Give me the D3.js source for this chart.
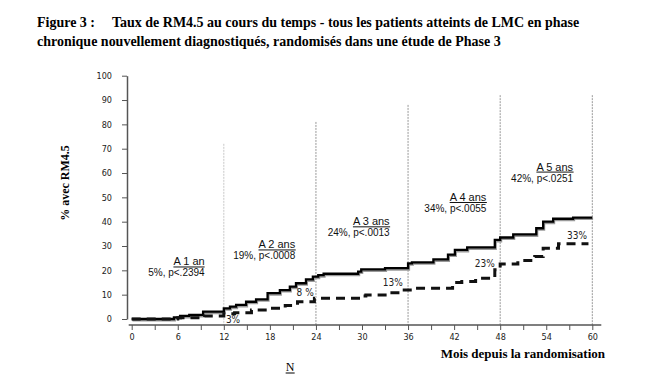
<!DOCTYPE html>
<html><head><meta charset="utf-8">
<script src="https://cdn.jsdelivr.net/npm/d3@7"></script>
<style>
html,body{margin:0;padding:0;background:#fff;}
svg{display:block;}
</style></head>
<body>
<script>
// ---- data ----
const solidMonths = [0,5.5,6.3,7.5,9.3,12,12.8,13.6,14.9,16.2,17.7,19.3,20.6,21.4,22.7,23.6,24.3,25,29.5,29.9,33,36,36.5,39.3,41.2,42.1,43.7,47.3,48,49.7,52.7,53.6,54.9,57.5,60];
const solidValues = [0,0.7,1.3,1.7,3.0,4.4,5.1,5.8,7.1,8.1,10.6,11.9,13.3,14.7,16.3,17.4,18.0,18.6,19.5,20.4,20.9,22.9,23.3,24.5,26.5,28.4,29.4,32.5,33.5,34.8,37.3,40.0,41.2,41.7,41.7];
const dashedMonths = [0,6,9.5,12,13.4,15.6,17.7,20,21.6,23.8,29.8,30.5,33.5,35.5,36.5,41.8,43,44.8,47.3,48,50.3,52.5,53.6,55.6,59.5];
const dashedValues = [0,0.5,1.2,2.2,2.6,3.7,4.4,5.6,7.1,8.5,9.5,9.9,10.8,11.9,12.6,15.0,15.4,16.7,20.2,22.6,24.0,25.7,29.1,30.9,30.9];
const xTicks = [0,3,6,9,12,15,18,21,24,27,30,33,36,39,42,45,48,51,54,57,60];
const xTickLabels = [0,6,12,18,24,30,36,42,48,54,60];
const yTicks = [0,10,20,30,40,50,60,70,80,90,100];
const refMonths = [12,24,36,48,60];
const refTops = [72,81,88,92,92];
const yearTitles = ["A 1 an","A 2 ans","A 3 ans","A 4 ans","A 5 ans"];
const yearStats = ["5%, p<.2394","19%, p<.0008","24%, p<.0013","34%, p<.0055","42%, p<.0251"];
const yearLabelMonth = [9.5,21.3,33.6,46.2,57.5];
const yearLabelValue = [22,29,38.5,48.5,61];
const pctLabels = ["3%","8 %","13%","23%","33%"];
const pctMonth = [13.2,22.6,34,46,58];
const pctValue = [0,11,14.8,23,34.5];
const titleLabel = "Figure 3 :";
const titleLine1 = "Taux de RM4.5 au cours du temps - tous les patients atteints de LMC en phase";
const titleLine2 = "chronique nouvellement diagnostiqués, randomisés dans une étude de Phase 3";

const W = 654, H = 379;
const svg = d3.select("body").append("svg").attr("width", W).attr("height", H);

const x = d3.scaleLinear().domain([0,60]).range([131.7, 592.3]);
const y = d3.scaleLinear().domain([0,100]).range([319, 75.7]);

const serif = "'Liberation Serif','Times New Roman',serif";
const sans = "'Liberation Sans',Arial,sans-serif";
const narrow = "'Liberation Sans Narrow','Arial Narrow','DejaVu Sans Condensed',sans-serif";

// Title (font size fitted so line 2 spans the reference width)
const t2 = svg.append("text").attr("x",37).attr("y",46).attr("font-family",serif).attr("font-weight","bold").attr("font-size",14).text(titleLine2);
const fs = 14 * 464 / t2.node().getComputedTextLength();
t2.attr("font-size", fs);
svg.append("text").attr("x",37).attr("y",27).attr("font-family",serif).attr("font-weight","bold").attr("font-size",fs).text(titleLabel);
svg.append("text").attr("x",112).attr("y",27).attr("font-family",serif).attr("font-weight","bold").attr("font-size",fs).text(titleLine1);

// reference lines
svg.append("g").selectAll("line").data(refMonths).join("line")
  .attr("x1", d=>x(d)).attr("x2", d=>x(d))
  .attr("y1", (d,i)=>y(refTops[i])).attr("y2", 325)
  .attr("stroke", (d,i)=> i===0 ? "#c8c8c8" : "#999")
  .attr("stroke-width",1).attr("stroke-dasharray","2,1");

// Y axis
const yAxis = svg.append("g").attr("transform","translate(127,0)")
  .call(d3.axisLeft(y).tickValues(yTicks).tickSize(5).tickSizeOuter(0).tickPadding(10));
yAxis.select(".domain").attr("stroke","#555").attr("stroke-width",1.5);
yAxis.selectAll(".tick line").attr("stroke","#555");
yAxis.selectAll("text").attr("font-family",narrow).attr("font-size",9).attr("fill","#222");

// X axis
const xAxis = svg.append("g").attr("transform","translate(0,325)")
  .call(d3.axisBottom(x).tickValues(xTicks).tickSize(5).tickSizeOuter(0).tickPadding(4)
    .tickFormat(d => xTickLabels.includes(d) ? d : ""));
xAxis.select(".domain").remove();
xAxis.append("line").attr("x1", x(0)-3).attr("x2", x(60)+9).attr("stroke","#555").attr("stroke-width",1.5);
xAxis.selectAll(".tick line").attr("stroke","#555");
xAxis.selectAll("text").attr("font-family",narrow).attr("font-size",9).attr("fill","#222");

// axis titles
svg.append("text").attr("transform","translate(69,183) rotate(-90)").attr("text-anchor","middle")
  .attr("font-family",serif).attr("font-weight","bold").attr("font-size",12).text("% avec RM4.5");
svg.append("text").attr("x",605).attr("y",358).attr("text-anchor","end")
  .attr("font-family",serif).attr("font-weight","bold").attr("font-size",13).text("Mois depuis la randomisation");
const nText = svg.append("text").attr("x",290).attr("y",371).attr("text-anchor","middle")
  .attr("font-family",serif).attr("font-size",12).text("N");
const nb = nText.node().getBBox();
svg.append("line").attr("x1",nb.x).attr("x2",nb.x+nb.width).attr("y1",373).attr("y2",373)
  .attr("stroke","#000").attr("stroke-width",1);

// lines
const line = d3.line().x(d=>x(d[0])).y(d=>y(d[1])).curve(d3.curveStepAfter);
const solid = solidMonths.map((m,i)=>[m, solidValues[i]]);
const dashed = dashedMonths.map((m,i)=>[m, dashedValues[i]]);
svg.append("path").datum(solid).attr("d",line).attr("fill","none")
  .attr("stroke","#9a9a9a").attr("stroke-width",2.5).attr("transform","translate(0.8,1.3)");
svg.append("path").datum(solid).attr("d",line).attr("fill","none")
  .attr("stroke","#000").attr("stroke-width",2.3);
svg.append("path").datum(dashed).attr("d",line).attr("fill","none")
  .attr("stroke","#111").attr("stroke-width",3).attr("stroke-dasharray","9,6");

// year annotations
const ann = svg.append("g");
yearTitles.forEach((t,i)=>{
  const tx = x(yearLabelMonth[i]), ty = y(yearLabelValue[i]);
  const tt = ann.append("text").attr("x",tx).attr("y",ty).attr("text-anchor","end")
    .attr("font-family",sans).attr("font-size",11).attr("fill","#111").text(t);
  const b = tt.node().getBBox();
  ann.append("line").attr("x1",b.x).attr("x2",b.x+b.width).attr("y1",ty+1.5).attr("y2",ty+1.5)
    .attr("stroke","#111").attr("stroke-width",1);
  ann.append("text").attr("x",tx).attr("y",ty+11).attr("text-anchor","end")
    .attr("font-family",sans).attr("font-size",10).attr("fill","#111").text(yearStats[i]);
});

// percent labels
svg.append("g").selectAll("text").data(pctLabels).join("text")
  .attr("x",(d,i)=>x(pctMonth[i])).attr("y",(d,i)=>y(pctValue[i])+3.5)
  .attr("text-anchor","middle").attr("font-family",narrow).attr("font-size",10).attr("fill","#222")
  .text(d=>d);
</script>
</body></html>
